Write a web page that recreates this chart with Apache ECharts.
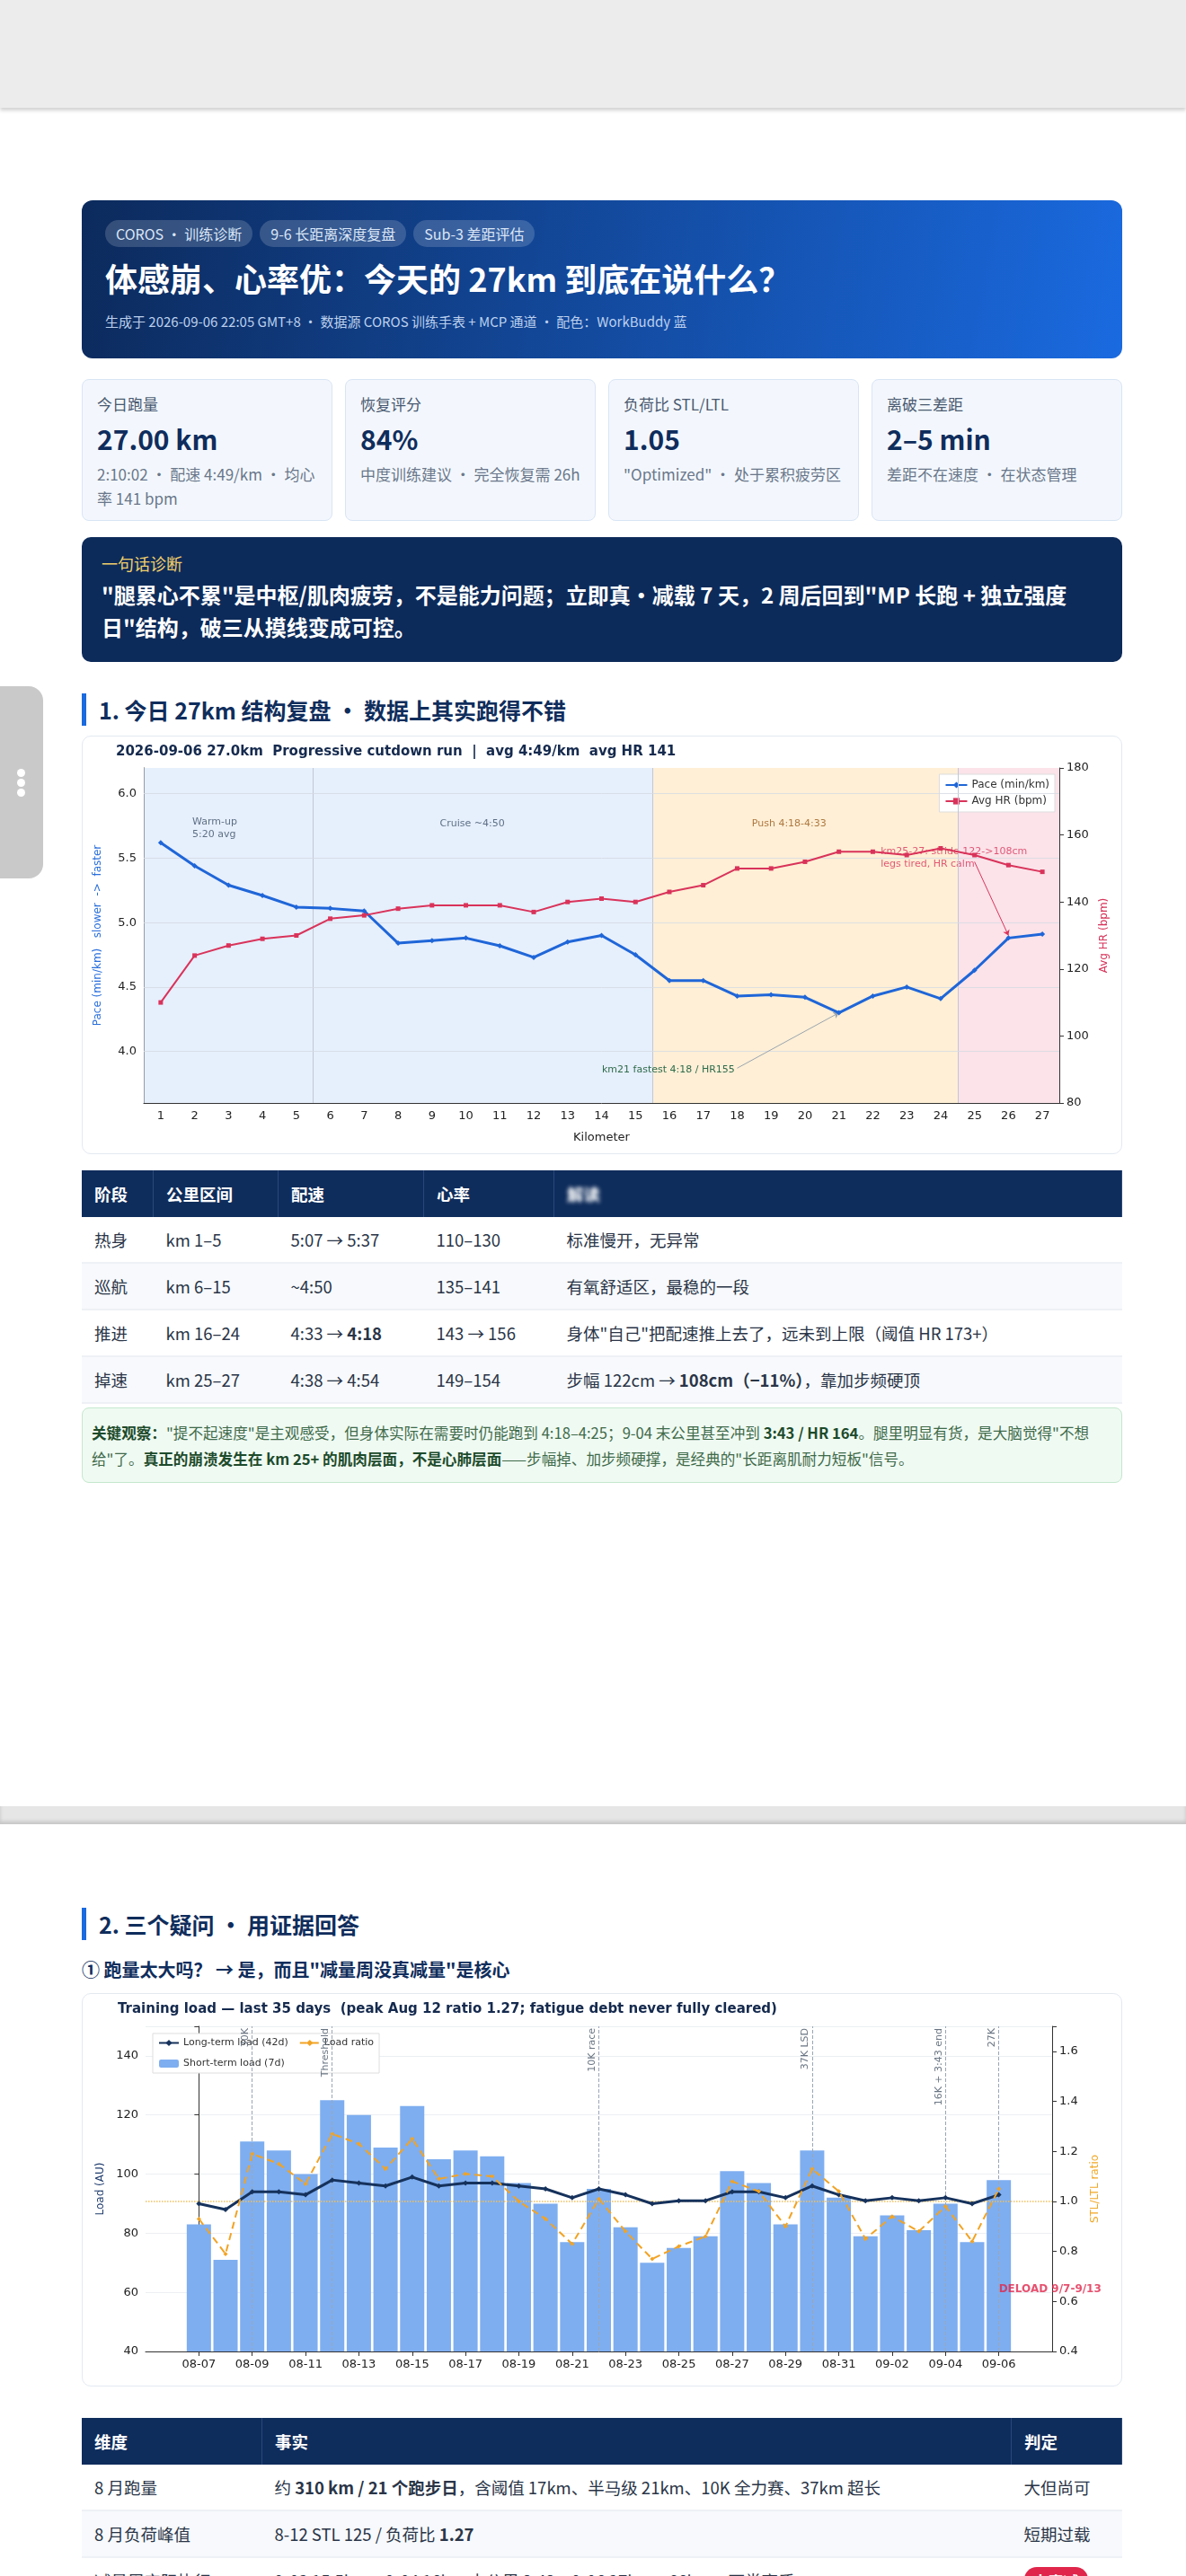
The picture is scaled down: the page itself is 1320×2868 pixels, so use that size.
<!DOCTYPE html>
<html><head><meta charset="utf-8">
<script src="https://cdn.jsdelivr.net/npm/echarts@6/dist/echarts.min.js"></script>
<style>
body{margin:0;width:1320px;height:2868px;background:#fff;font-family:"Noto Sans CJK SC","Noto Sans",sans-serif;color:#1b2a41;position:relative;overflow:hidden}
.topbar{position:absolute;left:0;top:0;width:1320px;height:120px;background:#ececec;box-shadow:0 3px 4px rgba(0,0,0,.18)}
.gap{position:absolute;left:0;top:2011px;width:1320px;height:20px;background:#e6e6e6;box-shadow:inset 0 -3px 4px rgba(0,0,0,.15)}
.tab{position:absolute;left:0;top:764px;width:48px;height:214px;background:#c9c9c9;border-radius:0 16px 16px 0}
.tab i{position:absolute;left:19px;width:9px;height:9px;border-radius:50%;background:#fff}
.box{position:absolute;left:91px;width:1158px;box-sizing:border-box}
.hero{top:223px;height:176px;border-radius:12px;background:linear-gradient(100deg,#0c2a5c,#1a6ae0);padding:22px 26px;color:#fff}
.pill{display:inline-block;background:rgba(255,255,255,.17);border-radius:16px;padding:3px 12px;font-size:16px;margin-right:8px;color:#dbe6f7}
.hero h1{margin:8px 0 12px;font-size:36px;font-weight:700}
.hero .sub{font-size:15px;color:#bcd0ee}
.kpis{top:422px;height:158px;display:flex;gap:14px}
.kpi{flex:1;background:#f3f7fd;border:1px solid #d9e5f5;border-radius:8px;padding:14px 16px;box-sizing:border-box}
.kpi .l{font-size:17px;color:#4a5a70}
.kpi .v{font-size:30px;font-weight:700;color:#0f2d5c;margin:4px 0 4px}
.kpi .s{font-size:17px;color:#6a778a;line-height:27px}
.diag{top:598px;height:139px;background:#0d2b5a;border-radius:10px;padding:16px 22px;color:#fff}
.diag .l{color:#f2cf6a;font-size:18px}
.diag .t{font-size:24px;font-weight:700;line-height:36px;margin-top:4px}
.sec{font-size:25px;font-weight:700;color:#0f2d5c;border-left:5px solid #1a6ae0;padding-left:14px;height:36px;line-height:36px}
.card{border:1px solid #e3e9f1;border-radius:10px;background:#fff}
table{border-collapse:collapse;width:100%;font-size:18.5px;table-layout:fixed}
th{background:#0f2d5c;color:#fff;text-align:left;font-weight:700;padding:0 14px;height:52px;border-right:1px solid #29477a}
td{padding:0 14px;height:50px;border-bottom:2px solid #eef1f6;color:#2a3547}
tr:nth-child(odd) td{background:#f7f9fc}
.note{top:1567px;height:84px;background:#effaf2;border:1px solid #c4e8cd;border-radius:8px;padding:13px 10px;font-size:16.6px;line-height:29px;color:#3f6a4a}
.note b{color:#1d4a2b}
.badge{background:#e0264b;color:#fff;border-radius:14px;padding:3px 10px;font-weight:700;font-size:17px}
</style></head><body>
<div class="topbar"></div>
<div class="tab"><i style="top:92px"></i><i style="top:103px"></i><i style="top:114px"></i></div>
<div class="box hero">
 <span class="pill">COROS · 训练诊断</span><span class="pill">9-6 长距离深度复盘</span><span class="pill">Sub-3 差距评估</span>
 <h1>体感崩、心率优：今天的 27km 到底在说什么？</h1>
 <div class="sub">生成于 2026-09-06 22:05 GMT+8 · 数据源 COROS 训练手表 + MCP 通道 · 配色：WorkBuddy 蓝</div>
</div>
<div class="box kpis">
 <div class="kpi"><div class="l">今日跑量</div><div class="v">27.00 km</div><div class="s">2:10:02 · 配速 4:49/km · 均心率 141 bpm</div></div>
 <div class="kpi"><div class="l">恢复评分</div><div class="v">84%</div><div class="s">中度训练建议 · 完全恢复需 26h</div></div>
 <div class="kpi"><div class="l">负荷比 STL/LTL</div><div class="v">1.05</div><div class="s">"Optimized" · 处于累积疲劳区</div></div>
 <div class="kpi"><div class="l">离破三差距</div><div class="v">2–5 min</div><div class="s">差距不在速度 · 在状态管理</div></div>
</div>
<div class="box diag"><div class="l">一句话诊断</div><div class="t">"腿累心不累"是中枢/肌肉疲劳，不是能力问题；立即真·减载 7 天，2 周后回到"MP 长跑 + 独立强度日"结构，破三从摸线变成可控。</div></div>
<div class="box sec" style="top:772px">1. 今日 27km 结构复盘 · 数据上其实跑得不错</div>
<div class="box card" style="top:819px;height:466px"><div id="c1" style="width:100%;height:100%"></div></div>
<div class="box" style="top:1303px">
<table>
<tr><th style="width:51px">阶段</th><th style="width:110px">公里区间</th><th style="width:133px">配速</th><th style="width:116px">心率</th><th><span style="filter:blur(2px)">解读</span></th></tr>
<tr><td>热身</td><td>km 1–5</td><td>5:07 → 5:37</td><td>110–130</td><td>标准慢开，无异常</td></tr>
<tr><td>巡航</td><td>km 6–15</td><td>~4:50</td><td>135–141</td><td>有氧舒适区，最稳的一段</td></tr>
<tr><td>推进</td><td>km 16–24</td><td>4:33 → <b>4:18</b></td><td>143 → 156</td><td>身体"自己"把配速推上去了，远未到上限（阈值 HR 173+）</td></tr>
<tr><td>掉速</td><td>km 25–27</td><td>4:38 → 4:54</td><td>149–154</td><td>步幅 122cm → <b>108cm（−11%）</b>，靠加步频硬顶</td></tr>
</table></div>
<div class="box note"><b>关键观察：</b>"提不起速度"是主观感受，但身体实际在需要时仍能跑到 4:18–4:25；9-04 末公里甚至冲到 <b>3:43 / HR 164</b>。腿里明显有货，是大脑觉得"不想给"了。<b>真正的崩溃发生在 km 25+ 的肌肉层面，不是心肺层面</b>——步幅掉、加步频硬撑，是经典的"长距离肌耐力短板"信号。</div>
<div class="gap"></div>
<div class="box sec" style="top:2124px">2. 三个疑问 · 用证据回答</div>
<div class="box" style="top:2178px;font-size:20px;font-weight:700;color:#0f2d5c">① 跑量太大吗？ → 是，而且"减量周没真减量"是核心</div>
<div class="box card" style="top:2219px;height:438px"><div id="c2" style="width:100%;height:100%"></div></div>
<div class="box" style="top:2692px">
<table>
<tr><th style="width:172px">维度</th><th>事实</th><th style="width:94px">判定</th></tr>
<tr><td>8 月跑量</td><td>约 <b>310 km / 21 个跑步日</b>，含阈值 17km、半马级 21km、10K 全力赛、37km 超长</td><td>大但尚可</td></tr>
<tr><td>8 月负荷峰值</td><td>8-12 STL 125 / 负荷比 <b>1.27</b></td><td>短期过载</td></tr>
<tr><td>减量周实际执行</td><td>9-02 15.5km + 9-04 16km 末公里 3:43 + 9-06 27km = 66km + 两堂高质</td><td><span class="badge">未真减</span></td></tr>
</table></div>
<script>
// km splits
var km = [];
for (var i = 1; i <= 27; i++) km.push(String(i));
var pace = [5.62,5.44,5.29,5.21,5.12,5.11,5.09,4.84,4.86,4.88,4.82,4.73,4.85,4.90,4.75,4.55,4.55,4.43,4.44,4.42,4.30,4.43,4.50,4.41,4.63,4.88,4.91];
var hr = [110,124,127,129,130,135,136,138,139,139,139,137,140,141,140,143,145,150,150,152,155,155,154,156,154,151,149];
var paceTicks = [4.0, 4.5, 5.0, 5.5, 6.0];

// training load, last 31 days shown
var days = ['08-07','08-08','08-09','08-10','08-11','08-12','08-13','08-14','08-15','08-16','08-17','08-18','08-19','08-20','08-21','08-22','08-23','08-24','08-25','08-26','08-27','08-28','08-29','08-30','08-31','09-01','09-02','09-03','09-04','09-05','09-06'];
var stl = [83,71,111,108,100,125,120,109,123,105,108,106,97,90,77,95,82,70,75,79,101,97,83,108,92,79,86,81,90,77,98];
var ltl = [90,88,94,94,93,98,97,96,99,96,97,97,96,95,92,95,93,90,91,91,94,94,92,96,93,91,92,91,92,90,93];
var ratio = [0.93,0.79,1.19,1.15,1.07,1.27,1.23,1.13,1.25,1.09,1.11,1.10,1.00,0.93,0.83,1.01,0.88,0.77,0.82,0.86,1.08,1.04,0.90,1.13,1.04,0.85,0.94,0.88,0.98,0.84,1.05];
var events = [['08-09','30K'],['08-12','Threshold'],['08-22','10K race'],['08-30','37K LSD'],['09-04','16K + 3:43 end'],['09-06','27K']];

function idx(arr) { return arr.map(function (v, i) { return [i, v]; }); }

var F = 'DejaVu Sans';
var c1 = echarts.init(document.getElementById('c1'));
c1.setOption({
    textStyle: {fontFamily: F},
    title: {text: '2026-09-06 27.0km  Progressive cutdown run  |  avg 4:49/km  avg HR 141', left: 32, top: 5,
        textStyle: {fontSize: 15, fontWeight: 'bold', color: '#152a4e', fontFamily: F}},
    legend: {right: 74, top: 42, orient: 'vertical', itemWidth: 24, itemHeight: 9, itemGap: 6,
        backgroundColor: '#fff', borderColor: '#ddd', borderWidth: 1, padding: 6,
        textStyle: {fontSize: 12, color: '#333'}},
    grid: {left: 68, right: 69, top: 35, bottom: 56},
    xAxis: [{type: 'category', data: km, name: 'Kilometer', nameLocation: 'middle', nameGap: 32,
        nameTextStyle: {color: '#222', fontSize: 13},
        axisLine: {lineStyle: {color: '#333'}}, axisTick: {alignWithLabel: true, lineStyle: {color: '#333'}},
        axisLabel: {color: '#222', fontSize: 13}},
        {type: 'value', min: 0.5, max: 27.5, show: false}],
    yAxis: [{type: 'value', min: 3.6, max: 6.2, interval: 0.1,
        name: 'Pace (min/km)   slower  ->  faster', nameLocation: 'middle', nameGap: 45, nameRotate: 90,
        nameTextStyle: {color: '#2a6fdb', fontSize: 12},
        axisLine: {show: true, lineStyle: {color: '#333'}}, axisTick: {show: false},
        axisLabel: {color: '#222', fontSize: 13, formatter: function (v) {
            for (var j = 0; j < paceTicks.length; j++) if (Math.abs(v - paceTicks[j]) < 1e-6) return paceTicks[j].toFixed(1);
            return ''; }},
        splitLine: {show: false}},
        {type: 'value', min: 80, max: 180, interval: 20, name: 'Avg HR (bpm)', nameLocation: 'middle', nameGap: 42,
        nameRotate: 90, nameTextStyle: {color: '#d6335a', fontSize: 12},
        axisLine: {show: true, lineStyle: {color: '#333'}}, axisTick: {show: true},
        axisLabel: {color: '#222', fontSize: 13}, splitLine: {show: false}}],
    series: [
        {type: 'line', xAxisIndex: 1, data: [], silent: true,
            markArea: {silent: true, data: [
                [{xAxis: 0.5, itemStyle: {color: 'rgba(214,228,250,0.6)'}}, {xAxis: 5.5}],
                [{xAxis: 5.5, itemStyle: {color: 'rgba(214,228,250,0.6)'}}, {xAxis: 15.5}],
                [{xAxis: 15.5, itemStyle: {color: 'rgba(253,232,196,0.7)'}}, {xAxis: 24.5}],
                [{xAxis: 24.5, itemStyle: {color: 'rgba(250,215,224,0.7)'}}, {xAxis: 27.5}]]},
            markLine: {silent: true, symbol: 'none', label: {show: false},
                lineStyle: {color: '#c0c8d4', type: 'solid', width: 1},
                data: [{xAxis: 5.5}, {xAxis: 15.5}, {xAxis: 24.5}]}},
        {type: 'line', data: [], silent: true,
            markLine: {silent: true, symbol: 'none', label: {show: false},
                lineStyle: {color: '#d6dbe3', type: 'solid', width: 1, opacity: 0.8},
                data: paceTicks.map(function (t) { return {yAxis: t}; })}},
        {name: 'Pace (min/km)', type: 'line', data: pace, color: '#1f66d8', symbol: 'diamond', symbolSize: 6,
            lineStyle: {width: 3}, z: 5,
            markLine: {silent: true, symbol: ['none', 'arrow'], symbolSize: 6,
                lineStyle: {color: '#9aa3ae', type: 'solid', width: 1},
                label: {show: true, position: 'start', formatter: 'km21 fastest 4:18 / HR155', color: '#2e6b4a', fontSize: 11, distance: 3},
                data: [[{coord: ['18', 3.87]}, {coord: ['21', 4.3]}]]}},
        {name: 'Avg HR (bpm)', type: 'line', yAxisIndex: 1, data: hr, color: '#d9335a', symbol: 'rect', symbolSize: 5,
            lineStyle: {width: 2}, z: 5,
            markLine: {silent: true, symbol: ['none', 'arrow'], symbolSize: 6,
                lineStyle: {color: '#d9335a', type: 'solid', width: 1}, label: {show: false},
                data: [[{coord: ['25', 152]}, {coord: ['26', 130]}]]}},
        {type: 'scatter', xAxisIndex: 1, symbolSize: 0, silent: true,
            label: {show: true, position: 'right', fontSize: 11, lineHeight: 14},
            data: [
                {value: [1.8, 5.73], label: {formatter: 'Warm-up\n5:20 avg', color: '#3b5068'}},
                {value: [9.1, 5.77], label: {formatter: 'Cruise ~4:50', color: '#3b5068'}},
                {value: [18.3, 5.77], label: {formatter: 'Push 4:18-4:33', color: '#9a5a1a'}},
                {value: [22.1, 5.5], label: {formatter: 'km25-27: stride 122->108cm\nlegs tired, HR calm', color: '#d9335a'}}]}
    ]
});

var c2 = echarts.init(document.getElementById('c2'));
c2.setOption({
    textStyle: {fontFamily: F},
    title: {text: 'Training load — last 35 days  (peak Aug 12 ratio 1.27; fatigue debt never fully cleared)', left: 34, top: 5,
        textStyle: {fontSize: 15, fontWeight: 'bold', color: '#152a4e', fontFamily: F}},
    legend: {left: 78, top: 44, width: 270, itemWidth: 22, itemHeight: 9, itemGap: 12,
        backgroundColor: '#fff', borderColor: '#ddd', borderWidth: 1, padding: [5, 6],
        textStyle: {fontSize: 11, color: '#333'},
        data: ['Long-term load (42d)', 'Load ratio', 'Short-term load (7d)']},
    grid: {left: 70, right: 77, top: 36, bottom: 38},
    xAxis: {type: 'value', min: -2, max: 32, interval: 2,
        axisLine: {lineStyle: {color: '#333'}}, axisTick: {show: true, lineStyle: {color: '#333'}},
        splitLine: {show: false},
        axisLabel: {color: '#222', fontSize: 13, showMinLabel: false, showMaxLabel: false,
            formatter: function (v) { return days[v] || ''; }}},
    yAxis: [{type: 'value', min: 40, max: 150, interval: 20, name: 'Load (AU)', nameLocation: 'middle', nameGap: 42,
        nameTextStyle: {color: '#1f3c6e', fontSize: 12},
        axisLine: {show: true, lineStyle: {color: '#333'}}, axisTick: {show: true},
        axisLabel: {color: '#222', fontSize: 13, formatter: function (v) { return v > 140 ? '' : v; }},
        splitLine: {lineStyle: {color: '#eceff3'}}},
        {type: 'value', min: 0.4, max: 1.7, interval: 0.2, name: 'STL/LTL ratio', nameLocation: 'middle', nameGap: 42,
        nameTextStyle: {color: '#f0a92a', fontSize: 12},
        axisLine: {show: true, lineStyle: {color: '#333'}}, axisTick: {show: true},
        axisLabel: {color: '#222', fontSize: 13, formatter: function (v) { return v > 1.65 ? '' : v.toFixed(1); }},
        splitLine: {show: false}}],
    series: [
        {name: 'Short-term load (7d)', type: 'bar', data: idx(stl), barWidth: 27, itemStyle: {color: '#7eaef0'},
            markLine: {silent: true, symbol: 'none', lineStyle: {color: '#9aa6b6', type: 'dashed', width: 1},
                label: {position: 'insideEndTop', rotate: 90, color: '#6a7583', fontSize: 11, distance: 2, formatter: '{b}'},
                data: events.map(function (e) { return {xAxis: days.indexOf(e[0]), name: e[1]}; })}},
        {name: 'Long-term load (42d)', type: 'line', data: idx(ltl), color: '#16325c', symbol: 'diamond', symbolSize: 6,
            lineStyle: {width: 3}, z: 5},
        {name: 'Load ratio', type: 'line', yAxisIndex: 1, data: idx(ratio), color: '#f2a324', symbol: 'diamond', symbolSize: 5,
            lineStyle: {width: 2, type: [8, 5]}, z: 6,
            markLine: {silent: true, symbol: 'none', label: {show: false},
                lineStyle: {color: '#f0c060', type: 'dotted', width: 1.5}, data: [{yAxis: 1.0}]}},
        {type: 'scatter', yAxisIndex: 1, symbolSize: 0, silent: true,
            label: {show: true, position: 'right', distance: 0, formatter: 'DELOAD 9/7-9/13', color: '#e0264b', fontSize: 12, fontWeight: 'bold'},
            data: [[30, 0.65]]}
    ]
});
</script>
</body></html>
